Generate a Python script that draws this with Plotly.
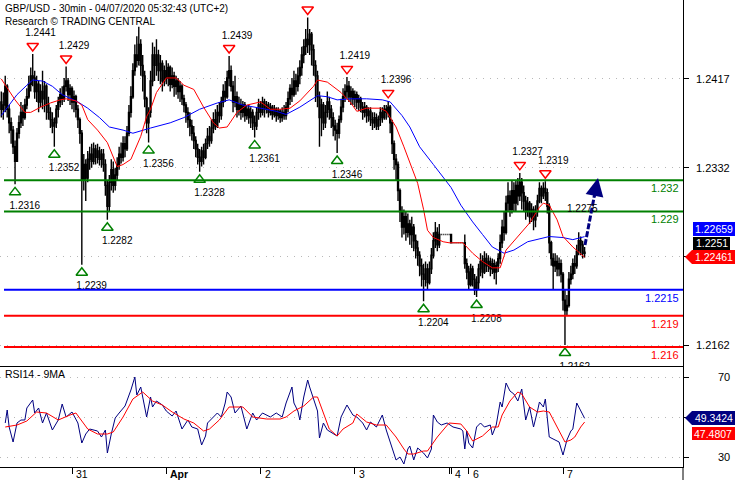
import plotly.graph_objects as go

# ---------------- data ----------------
bar_open_first = 1.2395
bar_close = [
1.2388,1.2392,1.2410,1.2388,1.2375,1.2368,1.2352,1.2338,1.2365,1.2375,
1.2385,1.2380,1.2392,1.2400,1.2412,1.2420,1.2418,1.2405,1.2412,1.2395,
1.2405,1.2398,1.2410,1.2392,1.2385,1.2378,1.2372,1.2375,1.2388,1.2395,
1.2402,1.2398,1.2410,1.2415,1.2402,1.2408,1.2395,1.2400,1.2388,1.2378,
1.2365,1.2320,1.2335,1.2322,1.2340,1.2345,1.2338,1.2350,1.2342,1.2348,
1.2340,1.2345,1.2335,1.2315,1.2295,1.2318,1.2330,1.2315,1.2325,1.2335,
1.2345,1.2342,1.2355,1.2350,1.2365,1.2385,1.2400,1.2425,1.2440,1.2435,
1.2450,1.2430,1.2420,1.2398,1.2375,1.2385,1.2415,1.2440,1.2430,1.2440,
1.2425,1.2432,1.2415,1.2425,1.2418,1.2428,1.2412,1.2420,1.2410,1.2415,
1.2405,1.2410,1.2398,1.2392,1.2385,1.2378,1.2372,1.2365,1.2358,1.2350,
1.2342,1.2338,1.2348,1.2342,1.2355,1.2362,1.2358,1.2370,1.2378,1.2372,
1.2385,1.2382,1.2395,1.2405,1.2400,1.2418,1.2425,1.2410,1.2395,1.2400,
1.2388,1.2392,1.2385,1.2392,1.2382,1.2388,1.2380,1.2385,1.2375,1.2372,
1.2385,1.2392,1.2385,1.2395,1.2388,1.2392,1.2385,1.2390,1.2383,1.2388,
1.2382,1.2386,1.2380,1.2385,1.2382,1.2390,1.2398,1.2408,1.2402,1.2415,
1.2410,1.2420,1.2428,1.2440,1.2448,1.2455,1.2450,1.2460,1.2445,1.2430,
1.2420,1.2400,1.2380,1.2392,1.2375,1.2385,1.2395,1.2388,1.2380,1.2372,
1.2368,1.2365,1.2378,1.2390,1.2400,1.2405,1.2410,1.2400,1.2405,1.2398,
1.2402,1.2395,1.2398,1.2390,1.2385,1.2390,1.2382,1.2386,1.2378,1.2375,
1.2380,1.2372,1.2378,1.2385,1.2380,1.2388,1.2385,1.2390,1.2375,1.2355,
1.2340,1.2335,1.2310,1.2290,1.2275,1.2285,1.2270,1.2278,1.2268,1.2275,
1.2262,1.2255,1.2248,1.2238,1.2230,1.2225,1.2235,1.2222,1.2235,1.2248,
1.2262,1.2270,1.2258,1.2268,1.2268,1.2268,1.2268,1.2268,1.2268,1.2260,
1.2260,1.2260,1.2260,1.2260,1.2260,1.2260,1.2240,1.2232,1.2220,1.2235,
1.2225,1.2215,1.2222,1.2235,1.2242,1.2232,1.2245,1.2238,1.2242,1.2235,
1.2240,1.2232,1.2238,1.2245,1.2260,1.2275,1.2270,1.2298,1.2305,1.2292,
1.2310,1.2298,1.2315,1.2305,1.2318,1.2308,1.2300,1.2290,1.2298,1.2285,
1.2292,1.2282,1.2290,1.2300,1.2312,1.2305,1.2312,1.2308,1.2295,1.2260,
1.2245,1.2238,1.2242,1.2235,1.2240,1.2230,1.2205,1.2195,1.2200,1.2225,
1.2230,1.2240,1.2238,1.2252,1.2262,1.2258,1.2250,1.2251]
bar_high = [
1.2405,1.2404,1.2420,1.2412,1.2392,1.2380,1.2372,1.2358,1.2370,1.2382,
1.2395,1.2392,1.2398,1.2408,1.2420,1.2428,1.2441,1.2425,1.2420,1.2415,
1.2412,1.2425,1.2415,1.2412,1.2400,1.2390,1.2385,1.2380,1.2392,1.2400,
1.2408,1.2410,1.2418,1.2429,1.2418,1.2412,1.2410,1.2406,1.2402,1.2392,
1.2380,1.2368,1.2345,1.2340,1.2348,1.2352,1.2355,1.2356,1.2354,1.2355,
1.2352,1.2350,1.2350,1.2340,1.2320,1.2325,1.2340,1.2338,1.2332,1.2342,
1.2352,1.2356,1.2362,1.2362,1.2372,1.2392,1.2410,1.2432,1.2450,1.2458,
1.2467,1.2455,1.2440,1.2425,1.2400,1.2390,1.2425,1.2452,1.2448,1.2455,
1.2445,1.2440,1.2435,1.2430,1.2435,1.2432,1.2430,1.2428,1.2424,1.2420,
1.2418,1.2415,1.2412,1.2402,1.2395,1.2390,1.2385,1.2378,1.2372,1.2362,
1.2355,1.2350,1.2352,1.2355,1.2360,1.2370,1.2372,1.2378,1.2385,1.2388,
1.2392,1.2395,1.2400,1.2412,1.2415,1.2425,1.2439,1.2430,1.2415,1.2420,
1.2405,1.2400,1.2398,1.2396,1.2395,1.2392,1.2392,1.2390,1.2388,1.2382,
1.2390,1.2398,1.2396,1.2400,1.2398,1.2396,1.2395,1.2394,1.2392,1.2392,
1.2390,1.2390,1.2388,1.2390,1.2392,1.2395,1.2405,1.2412,1.2418,1.2425,
1.2422,1.2428,1.2435,1.2448,1.2455,1.2465,1.2476,1.2465,1.2462,1.2450,
1.2435,1.2425,1.2405,1.2398,1.2395,1.2392,1.2405,1.2400,1.2392,1.2385,
1.2378,1.2375,1.2382,1.2398,1.2408,1.2412,1.2419,1.2415,1.2410,1.2408,
1.2406,1.2405,1.2402,1.2400,1.2395,1.2395,1.2392,1.2390,1.2390,1.2385,
1.2385,1.2384,1.2382,1.2390,1.2390,1.2392,1.2392,1.2396,1.2392,1.2378,
1.2358,1.2345,1.2338,1.2312,1.2295,1.2292,1.2290,1.2288,1.2282,1.2285,
1.2278,1.2268,1.2262,1.2252,1.2245,1.2240,1.2242,1.2240,1.2242,1.2255,
1.2270,1.2280,1.2275,1.2278,1.2268,1.2268,1.2268,1.2268,1.2268,1.2268,
1.2260,1.2260,1.2260,1.2260,1.2260,1.2260,1.2268,1.2245,1.2238,1.2240,
1.2238,1.2230,1.2228,1.2240,1.2250,1.2248,1.2252,1.2250,1.2248,1.2246,
1.2245,1.2244,1.2242,1.2250,1.2268,1.2282,1.2290,1.2305,1.2318,1.2310,
1.2320,1.2318,1.2320,1.2322,1.2327,1.2322,1.2315,1.2305,1.2304,1.2300,
1.2298,1.2295,1.2296,1.2306,1.2318,1.2315,1.2318,1.2319,1.2312,1.2298,
1.2262,1.2250,1.2250,1.2248,1.2246,1.2244,1.2232,1.2215,1.2210,1.2232,
1.2238,1.2245,1.2248,1.2258,1.2270,1.2266,1.2262,1.2256]
bar_low = [
1.2380,1.2378,1.2385,1.2380,1.2365,1.2355,1.2345,1.2316,1.2338,1.2360,
1.2370,1.2372,1.2378,1.2388,1.2398,1.2405,1.2410,1.2398,1.2395,1.2385,
1.2390,1.2388,1.2385,1.2378,1.2378,1.2370,1.2365,1.2352,1.2370,1.2380,
1.2390,1.2392,1.2395,1.2405,1.2396,1.2392,1.2388,1.2385,1.2380,1.2370,
1.2355,1.2239,1.2310,1.2300,1.2318,1.2330,1.2332,1.2335,1.2335,1.2336,
1.2334,1.2332,1.2328,1.2305,1.2282,1.2290,1.2310,1.2308,1.2310,1.2320,
1.2330,1.2336,1.2338,1.2342,1.2348,1.2362,1.2380,1.2398,1.2420,1.2428,
1.2430,1.2420,1.2405,1.2390,1.2365,1.2356,1.2380,1.2410,1.2415,1.2420,
1.2415,1.2412,1.2405,1.2410,1.2412,1.2410,1.2405,1.2408,1.2400,1.2402,
1.2398,1.2395,1.2392,1.2385,1.2375,1.2370,1.2362,1.2358,1.2350,1.2342,
1.2335,1.2328,1.2333,1.2335,1.2340,1.2350,1.2352,1.2355,1.2365,1.2368,
1.2370,1.2375,1.2378,1.2390,1.2395,1.2398,1.2410,1.2405,1.2385,1.2390,
1.2380,1.2382,1.2378,1.2380,1.2376,1.2378,1.2374,1.2370,1.2368,1.2361,
1.2368,1.2378,1.2380,1.2382,1.2380,1.2384,1.2380,1.2382,1.2378,1.2380,
1.2376,1.2378,1.2375,1.2376,1.2378,1.2378,1.2385,1.2392,1.2395,1.2400,
1.2402,1.2405,1.2412,1.2420,1.2432,1.2440,1.2442,1.2440,1.2430,1.2420,
1.2395,1.2390,1.2352,1.2362,1.2368,1.2370,1.2380,1.2378,1.2370,1.2362,
1.2358,1.2346,1.2360,1.2375,1.2385,1.2395,1.2398,1.2395,1.2392,1.2392,
1.2390,1.2388,1.2386,1.2385,1.2378,1.2380,1.2375,1.2376,1.2372,1.2368,
1.2370,1.2368,1.2368,1.2372,1.2375,1.2378,1.2378,1.2380,1.2365,1.2345,
1.2330,1.2320,1.2300,1.2280,1.2265,1.2268,1.2262,1.2265,1.2258,1.2255,
1.2252,1.2245,1.2238,1.2228,1.2218,1.2204,1.2218,1.2215,1.2220,1.2230,
1.2245,1.2255,1.2252,1.2255,1.2268,1.2268,1.2268,1.2268,1.2268,1.2260,
1.2260,1.2260,1.2260,1.2260,1.2260,1.2260,1.2235,1.2225,1.2215,1.2218,
1.2218,1.2210,1.2208,1.2215,1.2228,1.2226,1.2230,1.2232,1.2232,1.2228,
1.2230,1.2225,1.2220,1.2232,1.2240,1.2255,1.2262,1.2268,1.2290,1.2285,
1.2288,1.2290,1.2290,1.2296,1.2300,1.2292,1.2290,1.2282,1.2285,1.2278,
1.2280,1.2272,1.2275,1.2285,1.2298,1.2298,1.2302,1.2300,1.2288,1.2250,
1.2238,1.2215,1.2232,1.2228,1.2228,1.2222,1.2195,1.2162,1.2190,1.2198,
1.2220,1.2225,1.2230,1.2235,1.2248,1.2248,1.2245,1.2246]

ma_fast_idx = [0,7,12,15,20,25,30,33,38,41,44,49,54,59,62,66,71,74,76,79,
               84,89,93,98,103,108,111,115,120,125,132,137,142,147,152,159,161,166,173,178,
               181,186,193,196,198,201,205,208,212,215,217,220,225,228,235,240,245,250,254,257,
               263,269,274,276,279,283,286,291,297]
ma_fast = [1.2417,1.2397,1.2385,1.2385,1.2390,1.2394,1.2397,1.2398,1.2396,1.2392,
           1.2378,1.2368,1.2356,1.2333,1.2335,1.2340,1.2362,1.2381,1.2388,1.2404,
           1.2418,1.2418,1.2411,1.2407,1.2390,1.2375,1.2370,1.2371,1.2385,1.2392,
           1.2395,1.2388,1.2388,1.2389,1.2396,1.2410,1.2416,1.2414,1.2404,1.2394,
           1.2386,1.2389,1.2389,1.2386,1.2380,1.2371,1.2352,1.2337,1.2317,1.2292,
           1.2272,1.2265,1.2261,1.2260,1.2260,1.2250,1.2242,1.2236,1.2236,1.2253,
           1.2266,1.2279,1.2294,1.2298,1.2296,1.2282,1.2266,1.2256,1.22461]
ma_slow_idx = [0,8,13,16,21,26,31,39,44,50,55,62,67,72,76,86,93,101,110,116,
               123,132,140,145,152,161,166,171,178,186,194,198,204,208,213,220,225,229,234,240,
               245,250,256,261,268,274,279,286,291,297]
ma_slow = [1.2382,1.2402,1.2411,1.2416,1.2415,1.2410,1.2402,1.2395,1.2389,1.2380,
           1.2371,1.2368,1.2365,1.2368,1.2370,1.2375,1.2380,1.2388,1.2394,1.2397,
           1.2392,1.2389,1.2386,1.2383,1.2390,1.2401,1.2400,1.2397,1.2398,1.2398,
           1.2397,1.2395,1.2382,1.2371,1.2352,1.2335,1.2323,1.2313,1.2296,1.2280,
           1.2268,1.2256,1.2250,1.2253,1.2261,1.2264,1.2266,1.2265,1.2263,1.22659]

rsi_idx = [2,3,4,6,8,10,12,13,16,17,19,21,23,26,29,31,33,36,39,41,
           43,45,49,51,53,54,56,58,60,63,66,67,68,69,71,72,74,76,77,79,
           82,84,87,89,92,95,97,100,102,104,105,108,110,112,114,115,117,119,122,125,
           128,130,133,137,140,143,145,148,149,151,152,154,156,157,159,161,162,164,166,169,
           171,173,176,179,181,184,186,188,191,193,194,196,198,199,201,203,205,207,208,210,
           212,215,217,219,220,222,224,227,230,234,235,236,237,238,240,242,244,246,249,250,
           252,254,255,257,259,261,263,265,266,267,269,271,273,274,276,277,279,282,284,286,
           288,290,291,293,295,297]
rsi = [47,53.5,45,37.5,47,48.5,48.5,54.5,58.5,52,54.5,47,52,43.5,48.5,56.5,50,52.5,47,37,
       41.5,44,43,40,43.5,32,41.5,49.5,52,55.5,63.5,67,70,61,65,60,50,60,55,58,
       56,53,50.5,53,44,48.5,45,44,36,40.5,47,50,52,50,57,62.5,60,52,55.5,44,
       52,48.5,52,50,52,50,57,65,57,53,48.5,60,68.5,65,58.5,53,39.5,47,43.5,41.5,
       40.5,50,56,51,50,47,43.5,47.5,45,49,51,43.5,37,34,28.5,30,26.5,34,35.5,28.5,
       34.5,32,29.5,34,51,47.5,46,47,45,44,43,34,43,37,34.5,45,47,45,46,41,
       46,57.5,55,67,63,61.5,58,64,57,48.5,55,45,53,57.5,55,59,40,38.5,37.5,31,
       38.5,43,44,57,53,49.3424]
rsi_ma_idx = [2,8,13,18,23,29,35,38,41,44,49,54,57,62,67,72,77,82,87,93,
              98,103,106,111,116,123,128,135,142,145,149,154,159,161,164,167,171,174,179,181,
              186,191,196,201,205,207,210,215,217,222,228,234,237,240,245,250,253,255,259,263,
              265,269,273,276,279,283,287,290,292,295,297]
rsi_ma = [45,46,48,52.5,52,48.5,51,52,48,44,41.5,41.5,42.5,50,59,62.5,58,56,52.5,49,
          47,43,44,48.5,55,55,50,49,49,50,53,55.5,60,60,52,44,40.5,44,47,51.5,
          47.5,46,46,40,34,31.5,31.5,33,33,40,47,46.5,43,38,40.5,45,45,51,58,62.5,
          61.5,55,52.5,53,52.5,45,37.5,38.5,40,45,47.4807]

swing_high_idx = [16, 33, 116, 156, 176, 197, 264, 277]
swing_high = [1.2441, 1.2429, 1.2439, 1.2476, 1.2419, 1.2396, 1.2327, 1.2319]
swing_low_idx = [7, 27, 41, 54, 75, 101, 129, 171, 215, 242, 287]
swing_low = [1.2316, 1.2352, 1.2239, 1.2282, 1.2356, 1.2328, 1.2361, 1.2346, 1.2204, 1.2208, 1.2162]

levels = [1.232, 1.229, 1.2215, 1.219, 1.216]
level_colors = ["#008000", "#008000", "#0000ff", "#ff0000", "#ff0000"]
level_labels = ["1.232", "1.229", "1.2215", "1.219", "1.216"]

day_tick_marks = [36, 84, 132, 180, 228, 229, 238, 286]
day_label_idx = [36, 84, 132, 180, 229, 238, 286]
day_labels = ["31", "<b>Apr</b>", "2", "3", "4", "6", "7"]

price_ticks = [1.2162, 1.2247, 1.2332, 1.2417]
price_tick_labels = ["1.2162", "", "1.2332", "1.2417"]
rsi_ticks = [30, 50, 70]
rsi_tick_labels = ["30", "", "70"]

title_1 = "GBP/USD - 30min - 04/07/2020 05:32:43 (UTC+2)"
title_2 = "Research \u00a9 TRADING CENTRAL"
rsi_title = "RSI14 - 9MA"
target_label = "1.2275"
last_close_label = "1.2251"
ma_slow_label = "1.22659"
ma_fast_label = "1.22461"
rsi_label = "49.3424"
rsi_ma_label = "47.4807"

# ---------------- geometry / style ----------------
FONT = "Liberation Sans, Arial, sans-serif"
PLOT_W, PLOT_H, MAIN_H = 683, 467, 366
X0_PX, BAR_PX = 1.3, 1.964
X_RANGE = [(0 - X0_PX) / BAR_PX, (PLOT_W - X0_PX) / BAR_PX]
P_TOP, P_BOT = 1.24927, 1.21419
PPX = (P_TOP - P_BOT) / MAIN_H


def PX(x):
    return x / PLOT_W


def PY(y):
    return (PLOT_H - y) / PLOT_H


bar_idx = list(range(len(bar_close)))
bar_open = [bar_open_first] + bar_close[:-1]

fig = go.Figure()
fig.add_trace(go.Candlestick(
    x=bar_idx, open=bar_open, high=bar_high, low=bar_low, close=bar_close,
    increasing=dict(line=dict(color="black", width=1.4), fillcolor="white"),
    decreasing=dict(line=dict(color="black", width=1.4), fillcolor="black"),
    whiskerwidth=0, showlegend=False, hoverinfo="skip", xaxis="x", yaxis="y"))
fig.add_trace(go.Scatter(x=ma_slow_idx, y=ma_slow, mode="lines",
                         line=dict(color="#0000ff", width=1), xaxis="x", yaxis="y"))
fig.add_trace(go.Scatter(x=ma_fast_idx, y=ma_fast, mode="lines",
                         line=dict(color="#ff0000", width=1), xaxis="x", yaxis="y"))

fig.add_trace(go.Scatter(
    x=swing_high_idx, y=[v + 8 * PPX for v in swing_high], mode="markers",
    marker=dict(symbol="triangle-down-open", size=10, color="#ff0000",
                line=dict(width=1.5, color="#ff0000")), cliponaxis=True))
fig.add_trace(go.Scatter(
    x=swing_low_idx, y=[v - 8 * PPX for v in swing_low], mode="markers",
    marker=dict(symbol="triangle-up-open", size=10, color="#008000",
                line=dict(width=1.5, color="#008000")), cliponaxis=True))

# labels above highs (those that would sit above the chart top are not shown, as in the reference)
hi_lab = [(i, v) for i, v in zip(swing_high_idx, swing_high) if v + 26 * PPX < P_TOP]
fig.add_trace(go.Scatter(
    x=[i + 4 for i, _ in hi_lab], y=[v + 20 * PPX for _, v in hi_lab],
    mode="text", text=[f"{v:.4f}" for _, v in hi_lab], textposition="middle center",
    textfont=dict(size=10, color="black", family=FONT), cliponaxis=True))
fig.add_trace(go.Scatter(
    x=[i + 5 for i in swing_low_idx], y=[v - 22 * PPX for v in swing_low],
    mode="text", text=[f"{v:.4f}" for v in swing_low], textposition="middle center",
    textfont=dict(size=10, color="black", family=FONT), cliponaxis=True))

fig.add_trace(go.Scatter(x=rsi_idx, y=rsi, mode="lines",
                         line=dict(color="#000080", width=1), xaxis="x2", yaxis="y2"))
fig.add_trace(go.Scatter(x=rsi_ma_idx, y=rsi_ma, mode="lines",
                         line=dict(color="#ff0000", width=1), xaxis="x2", yaxis="y2"))

GRID = dict(showgrid=True, gridcolor="#b8b8b8", gridwidth=1, griddash="1px,6px")
fig.update_layout(
    width=735, height=480, margin=dict(l=0, r=52, t=0, b=13, pad=0),
    paper_bgcolor="white", plot_bgcolor="white", showlegend=False,
    font=dict(family=FONT, size=11, color="black"),
    xaxis=dict(domain=[0, 1], range=X_RANGE, anchor="y", showgrid=False, zeroline=False,
               showline=True, linecolor="black", linewidth=1, ticks="", showticklabels=False,
               rangeslider=dict(visible=False)),
    yaxis=dict(domain=[(PLOT_H - MAIN_H) / PLOT_H, 1], range=[P_BOT, P_TOP], side="right",
               anchor="x", tickvals=price_ticks, showticklabels=False, ticks="outside",
               ticklen=5, tickcolor="black", showline=True, linecolor="black",
               zeroline=False, **GRID),
    xaxis2=dict(domain=[0, 1], range=X_RANGE, anchor="y2", showgrid=False, zeroline=False,
                showline=True, linecolor="black", linewidth=1, ticks="outside", ticklen=6,
                tickcolor="black", tickvals=day_tick_marks, showticklabels=False),
    yaxis2=dict(domain=[0, (PLOT_H - MAIN_H) / PLOT_H], range=[25, 75.5], side="right",
                anchor="x2", tickvals=rsi_ticks, showticklabels=False, ticks="outside",
                ticklen=5, tickcolor="black", showline=True, linecolor="black",
                zeroline=False, **GRID),
)

shapes = []
annotations = []

# support / resistance levels
for lv, col, lab in zip(levels, level_colors, level_labels):
    shapes.append(dict(type="line", xref="paper", yref="y", x0=PX(4), x1=1, y0=lv, y1=lv,
                       line=dict(color=col, width=2)))
    annotations.append(dict(xref="paper", yref="y", x=PX(681), y=lv, yshift=-8,
                            xanchor="right", yanchor="middle", text=lab, showarrow=False,
                            font=dict(size=11, color=col)))

# right axis tick labels
for v, t in zip(price_ticks, price_tick_labels):
    if t:
        annotations.append(dict(xref="paper", yref="y", x=PX(732), y=v, xanchor="right",
                                yanchor="middle", text=t, showarrow=False,
                                font=dict(size=11)))
for v, t in zip(rsi_ticks, rsi_tick_labels):
    if t:
        annotations.append(dict(xref="paper", yref="y2", x=PX(732), y=v, xanchor="right",
                                yanchor="middle", text=t, showarrow=False,
                                font=dict(size=11)))

# date labels
for i, t in zip(day_label_idx, day_labels):
    annotations.append(dict(xref="x2", yref="paper", x=i, y=PY(474), xshift=2,
                            xanchor="left", yanchor="middle", text=t, showarrow=False,
                            font=dict(size=10.5)))

# titles
annotations.append(dict(xref="paper", yref="paper", x=PX(3), y=PY(8), xanchor="left",
                        yanchor="middle", text=title_1, showarrow=False, font=dict(size=10)))
annotations.append(dict(xref="paper", yref="paper", x=PX(3), y=PY(21), xanchor="left",
                        yanchor="middle", text=title_2, showarrow=False, font=dict(size=10)))
annotations.append(dict(xref="paper", yref="paper", x=PX(3), y=PY(374), xanchor="left",
                        yanchor="middle", text=rsi_title, showarrow=False, font=dict(size=10.5)))

# forecast arrow
shapes.append(dict(type="line", xref="paper", yref="paper", x0=PX(585), y0=PY(245),
                   x1=PX(594.5), y1=PY(195), line=dict(color="#000080", width=3, dash="6px,2px")))
annotations.append(dict(xref="paper", yref="paper", x=PX(598), y=PY(178), ax=-4, ay=20,
                        showarrow=True, arrowhead=2, arrowsize=1.2, arrowwidth=3,
                        arrowcolor="#000080", text=""))
annotations.append(dict(xref="paper", yref="paper", x=PX(600), y=PY(208), xanchor="right",
                        yanchor="middle", text=target_label, showarrow=False,
                        font=dict(size=10)))


def poly(pts):
    return "M " + " L ".join(f"{PX(x):.5f},{PY(y):.5f}" for x, y in pts) + " Z"


def box(pts, fill, text, cx, cy):
    shapes.append(dict(type="path", xref="paper", yref="paper", path=poly(pts),
                       fillcolor=fill, line=dict(width=0)))
    annotations.append(dict(xref="paper", yref="paper", x=PX(cx), y=PY(cy), xanchor="center",
                            yanchor="middle", text=text, showarrow=False,
                            font=dict(size=10.5, color="white")))


box([(693, 222), (735, 222), (735, 236), (693, 236)], "#0000ff", ma_slow_label, 714, 229)
box([(693, 237), (730, 237), (730, 250), (693, 250)], "#000000", last_close_label, 711.5, 243.5)
box([(685, 257), (692, 250), (735, 250), (735, 264), (692, 264)], "#ff0000", ma_fast_label, 714, 257)
box([(685, 418), (692, 411), (735, 411), (735, 425), (692, 425)], "#000080", rsi_label, 714, 418)
box([(692, 427), (735, 427), (735, 440), (692, 440)], "#ff0000", rsi_ma_label, 713.5, 433.5)

# right border continues to the bottom edge
shapes.append(dict(type="line", xref="paper", yref="paper", x0=1, x1=1, y0=PY(467), y1=PY(480),
                   line=dict(color="black", width=1)))

fig.update_layout(shapes=shapes, annotations=annotations)
fig.write_html("out.html", config={"displayModeBar": False},
               post_script="document.body.style.margin='0';document.body.style.overflow='hidden';")
